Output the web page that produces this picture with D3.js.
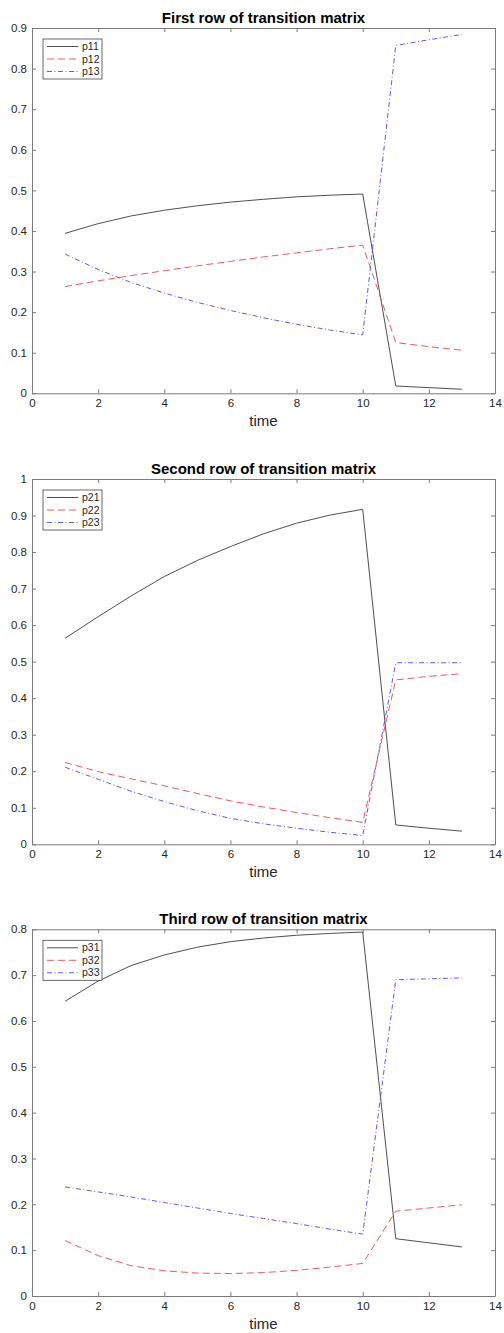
<!DOCTYPE html>
<html><head><meta charset="utf-8">
<script src="https://cdn.jsdelivr.net/npm/d3@7"></script>
<style>
body{margin:0;background:#fff}
text{font-family:"Liberation Sans",Arial,Helvetica,sans-serif}
</style>
</head><body>
<svg id="chart" width="504" height="1333"></svg>
<script>
// ---- data ----
const time = [1,2,3,4,5,6,7,8,9,10,11,12,13];
const p11 = [0.394,0.418,0.437,0.451,0.462,0.471,0.478,0.484,0.488,0.491,0.018,0.014,0.010];
const p12 = [0.263,0.277,0.290,0.302,0.314,0.325,0.336,0.346,0.356,0.365,0.125,0.115,0.106];
const p13 = [0.343,0.305,0.273,0.247,0.224,0.204,0.186,0.170,0.156,0.144,0.857,0.871,0.884];
const p21 = [0.564,0.623,0.680,0.733,0.777,0.815,0.850,0.879,0.901,0.917,0.053,0.044,0.036];
const p22 = [0.224,0.199,0.179,0.160,0.139,0.119,0.102,0.087,0.073,0.060,0.450,0.460,0.467];
const p23 = [0.211,0.178,0.145,0.117,0.092,0.071,0.056,0.044,0.033,0.024,0.497,0.497,0.497];
const p31 = [0.643,0.687,0.721,0.744,0.761,0.773,0.781,0.787,0.791,0.794,0.125,0.116,0.107];
const p32 = [0.121,0.088,0.066,0.055,0.050,0.049,0.051,0.056,0.063,0.071,0.185,0.192,0.199];
const p33 = [0.238,0.227,0.216,0.204,0.192,0.180,0.169,0.158,0.146,0.135,0.690,0.692,0.694];
const titles = ["First row of transition matrix","Second row of transition matrix","Third row of transition matrix"];
const seriesNames = [["p11","p12","p13"],["p21","p22","p23"],["p31","p32","p33"]];
const seriesValues = [[p11,p12,p13],[p21,p22,p23],[p31,p32,p33]];
const xTicks = [0,2,4,6,8,10,12,14];
const yTicks1 = [0,0.1,0.2,0.3,0.4,0.5,0.6,0.7,0.8,0.9];
const yTicks2 = [0,0.1,0.2,0.3,0.4,0.5,0.6,0.7,0.8,0.9,1];
const yTicks3 = [0,0.1,0.2,0.3,0.4,0.5,0.6,0.7,0.8];
const yMaxes = [0.9,1,0.8];
const xLabel = "time";

// ---- layout / style ----
const panels = [
  {top:28, bottom:393.3, yTicks:yTicks1},
  {top:479, bottom:844.3, yTicks:yTicks2},
  {top:929.3, bottom:1296, yTicks:yTicks3}
];
const left = 32, right = 495;
const styles = [
  {color:"#3a3a3a", dash:null, w:0.9},
  {color:"#e8474a", dash:"7,4", w:0.9},
  {color:"#4a4ae8", dash:"5,2.5,1,2.5", w:0.9}
];
const axisColor = "#7a7a7a", textColor = "#262626";

const svg = d3.select("#chart");
const x = d3.scaleLinear().domain([0,14]).range([left,right]);
const fmt = d => d3.format("~g")(d);

panels.forEach((p,i)=>{
  const y = d3.scaleLinear().domain([0,yMaxes[i]]).range([p.bottom,p.top]);
  const g = svg.append("g");

  const ab = g.append("g").attr("transform",`translate(0,${p.bottom})`)
    .call(d3.axisBottom(x).tickValues(xTicks).tickFormat(fmt).tickSizeInner(-4).tickSizeOuter(0).tickPadding(6));
  const at = g.append("g").attr("transform",`translate(0,${p.top})`)
    .call(d3.axisTop(x).tickValues(xTicks).tickFormat("").tickSizeInner(-4).tickSizeOuter(0));
  const al = g.append("g").attr("transform",`translate(${left},0)`)
    .call(d3.axisLeft(y).tickValues(p.yTicks).tickFormat(fmt).tickSizeInner(-4).tickSizeOuter(0).tickPadding(5));
  const ar = g.append("g").attr("transform",`translate(${right},0)`)
    .call(d3.axisRight(y).tickValues(p.yTicks).tickFormat("").tickSizeInner(-4).tickSizeOuter(0));
  [ab,at,al,ar].forEach(a=>{
    a.selectAll("path").attr("stroke",axisColor).attr("stroke-width",1);
    a.selectAll("line").attr("stroke",axisColor).attr("stroke-width",1);
    a.selectAll("text").attr("fill",textColor).attr("font-size","11.5px")
      .attr("font-family","'Liberation Sans',Arial,sans-serif");
  });

  const line = d3.line().x((d,k)=>x(time[k])).y(d=>y(d));
  seriesValues[i].forEach((vals,j)=>{
    g.append("path").datum(vals).attr("d",line)
      .attr("fill","none").attr("stroke",styles[j].color)
      .attr("stroke-width",styles[j].w)
      .attr("stroke-dasharray",styles[j].dash);
  });

  g.append("text").attr("x",(left+right)/2).attr("y",p.top-5.5)
    .attr("text-anchor","middle").attr("font-weight","bold").attr("font-size","15px")
    .attr("fill","#000").text(titles[i]);
  g.append("text").attr("x",(left+right)/2).attr("y",p.bottom+33)
    .attr("text-anchor","middle").attr("font-size","15px").attr("fill",textColor).text(xLabel);

  const lg = g.append("g").attr("transform",`translate(43,${p.top+11})`);
  lg.append("rect").attr("x",0).attr("y",0).attr("width",59).attr("height",40)
    .attr("fill","#fff").attr("stroke","#444").attr("stroke-width",0.8);
  seriesNames[i].forEach((name,j)=>{
    const cy = 7.5 + j*12.5;
    lg.append("line").attr("x1",4).attr("x2",35).attr("y1",cy).attr("y2",cy)
      .attr("stroke",styles[j].color).attr("stroke-width",styles[j].w)
      .attr("stroke-dasharray",styles[j].dash);
    lg.append("text").attr("x",39).attr("y",cy+3.7).attr("font-size","10.5px")
      .attr("fill",textColor).text(name);
  });
});
</script>
</body></html>
